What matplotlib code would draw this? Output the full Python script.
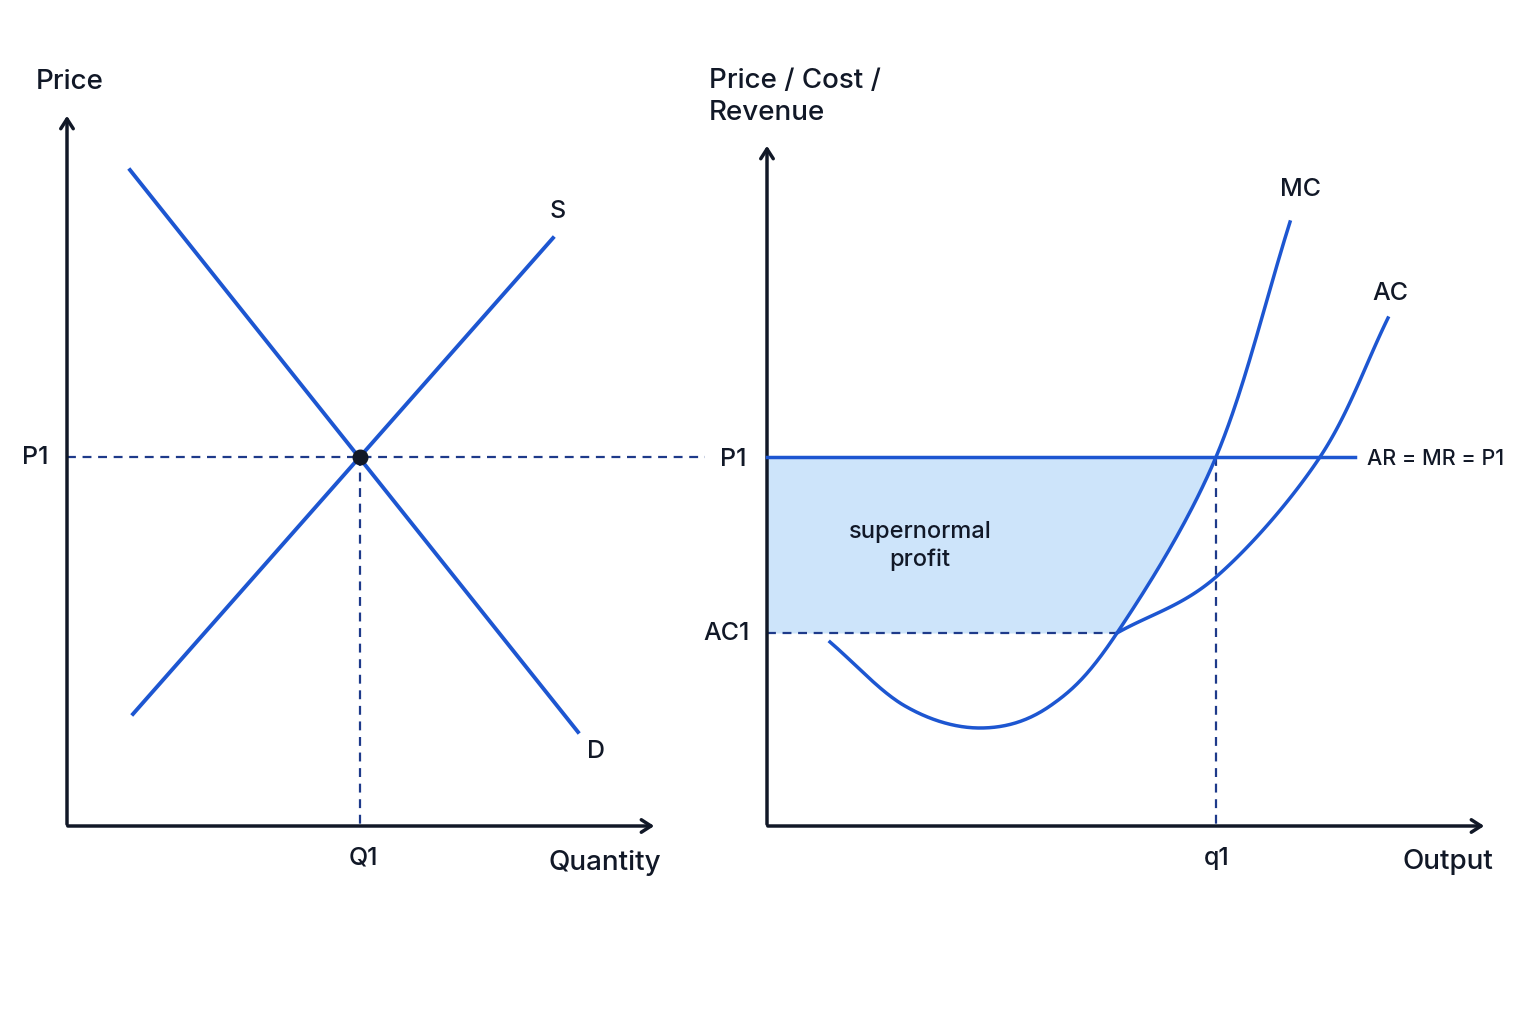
import numpy as np
import matplotlib
matplotlib.use("Agg")
import matplotlib.pyplot as plt

plt.rcParams['font.family'] = ['Inter', 'DejaVu Sans']
plt.rcParams['font.weight'] = 'medium'

# Data (diagram units: pixel-like, y grows downward)
demand_x = [130, 578]; demand_y = [170, 732]
supply_x = [133, 553]; supply_y = [714, 238]
eq_x, eq_y = 360, 457
p1_y = 457
ac1_y = 633
q1_x = 1216
mc_x = [830, 905, 980, 1050, 1117, 1216, 1290]
mc_y = [642, 706, 728, 706, 633, 457, 222]
ac_x = [1117, 1216, 1320, 1388]
ac_y = [633, 577, 457, 318]

BLUE = '#1d56d1'
NAVY = '#111827'
DASH = '#1e3a8a'
FILL = '#cde4fa'

def catmull(xs, ys, n=40):
    P = np.array(list(zip(xs, ys)), float)
    P = np.vstack([2*P[0]-P[1], P, 2*P[-1]-P[-2]])
    out = []
    for i in range(1, len(P)-2):
        p0, p1, p2, p3 = P[i-1], P[i], P[i+1], P[i+2]
        t = np.linspace(0, 1, n, endpoint=False)[:, None]
        out.append(0.5*((2*p1) + (-p0+p2)*t + (2*p0-5*p1+4*p2-p3)*t**2 + (-p0+3*p1-3*p2+p3)*t**3))
    out.append(P[-2][None, :])
    a = np.vstack(out)
    return a[:, 0], a[:, 1]

fig = plt.figure(figsize=(15.36, 10.24), dpi=100)
ax = fig.add_axes([0, 0, 1, 1])
ax.set_xlim(0, 1536); ax.set_ylim(1024, 0); ax.axis('off')

mcx, mcy = catmull(mc_x, mc_y)
acx, acy = catmull(ac_x, ac_y)

# shaded profit
seg = mcx >= 1100
ys = np.linspace(p1_y, ac1_y, 100)
order = np.argsort(mcy[seg])
xr = np.interp(ys, mcy[seg][order], mcx[seg][order])
ax.fill_betweenx(ys, 767, xr, color=FILL, lw=0, zorder=1)

arrow = dict(arrowstyle='->,head_width=0.45,head_length=0.7', color=NAVY, lw=2.5)
ax.annotate('', xy=(67, 113), xytext=(67, 827), arrowprops=arrow)
ax.annotate('', xy=(657, 826), xytext=(65, 826), arrowprops=arrow)
ax.annotate('', xy=(767, 143), xytext=(767, 827), arrowprops=arrow)
ax.annotate('', xy=(1487, 826), xytext=(765, 826), arrowprops=arrow)

dash = (0, (4, 3))
ax.plot([67, 705], [p1_y, p1_y], ls=dash, color=DASH, lw=1.6, zorder=2)
ax.plot([eq_x, eq_x], [eq_y, 825], ls=dash, color=DASH, lw=1.6, zorder=2)
ax.plot([767, 1117], [ac1_y, ac1_y], ls=dash, color=DASH, lw=1.6, zorder=2)
ax.plot([q1_x, q1_x], [p1_y, 825], ls=dash, color=DASH, lw=1.6, zorder=2)

ax.plot(demand_x, demand_y, color=BLUE, lw=2.8, zorder=3)
ax.plot(supply_x, supply_y, color=BLUE, lw=2.8, zorder=3)
ax.plot([767, 1355], [p1_y, p1_y], color=BLUE, lw=2.5, zorder=3)
ax.plot(mcx, mcy, color=BLUE, lw=2.5, zorder=3)
ax.plot(acx, acy, color=BLUE, lw=2.5, zorder=3)
ax.scatter([eq_x], [eq_y], s=110, color=NAVY, zorder=4)

fs = 18
big = 20
t = dict(color=NAVY, fontsize=fs)
ax.text(36, 82, 'Price', va='center', ha='left', fontsize=big, color=NAVY)
ax.text(22, 457, 'P1', va='center', ha='left', **t)
ax.text(363, 858, 'Q1', va='center', ha='center', **t)
ax.text(549, 863, 'Quantity', va='center', ha='left', fontsize=big, color=NAVY)
ax.text(558, 212, 'S', va='center', ha='center', **t)
ax.text(596, 752, 'D', va='center', ha='center', **t)
ax.text(709, 97, 'Price / Cost /\nRevenue', va='center', ha='left', fontsize=big, color=NAVY, linespacing=1.3)
ax.text(720, 459, 'P1', va='center', ha='left', **t)
ax.text(703, 633, 'AC1', va='center', ha='left', **t)
ax.text(1217, 858, 'q1', va='center', ha='center', **t)
ax.text(1402, 862, 'Output', va='center', ha='left', fontsize=big, color=NAVY)
ax.text(1300, 190, 'MC', va='center', ha='center', **t)
ax.text(1390, 293, 'AC', va='center', ha='center', **t)
ax.text(1367, 459, 'AR = MR = P1', va='center', ha='left', fontsize=15.5, color=NAVY)
ax.text(920, 546, 'supernormal\nprofit', va='center', ha='center', fontsize=17, color=NAVY, linespacing=1.3)

fig.savefig('out.png', dpi=100, facecolor='white')
